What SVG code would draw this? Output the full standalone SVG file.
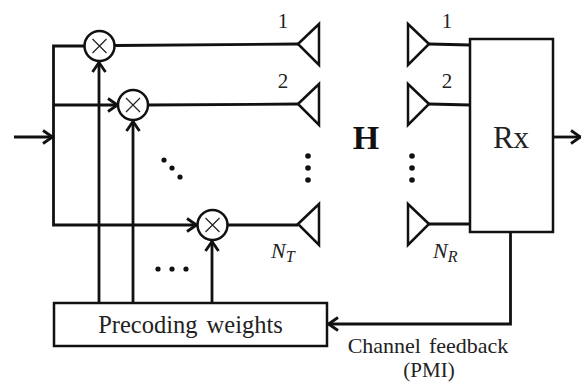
<svg xmlns="http://www.w3.org/2000/svg" width="581" height="383" viewBox="0 0 581 383">
<defs>
<marker id="a" markerUnits="userSpaceOnUse" markerWidth="16" markerHeight="18" refX="13" refY="9" orient="auto"><path d="M3 2.500L12.500 9L3 15.500" fill="none" stroke="#111" stroke-width="2.800"/></marker>
<g id="tx"><path d="M0 0L21 -20V21Z" class="s"/></g>
<g id="rx"><path d="M21 0L0 -20V21Z" class="s"/></g>
<g id="mul"><circle r="15" class="s"/><path d="M-7 -7L7 7M-7 7L7 -7" fill="none" stroke="#222" stroke-width="1.200"/></g>
</defs>
<style>
.s{fill:#fff;stroke:#111;stroke-width:2.500}
.c{fill:none;stroke:#111;stroke-width:2.800}
.t{font-family:"Liberation Serif",serif;fill:#222}
.i{font-family:"Liberation Serif",serif;font-style:italic;fill:#222}
.d{fill:#111}
</style>
<rect width="581" height="383" fill="#fff"/>
<g id="connectors">
<path class="c" d="M14 137H53" marker-end="url(#a)"/>
<path class="c" d="M84 46H53.500V225H197" marker-end="url(#a)"/>
<path class="c" d="M53.500 105H118" marker-end="url(#a)"/>
<path class="c" d="M99 303V62" marker-end="url(#a)"/>
<path class="c" d="M133 303V121" marker-end="url(#a)"/>
<path class="c" d="M212 303V241" marker-end="url(#a)"/>
<path class="c" d="M115 45.500L298 44M148 105L298 104M228 225H298"/>
<path class="c" d="M429 44L470 45M429 104L470 105M429 224L470 224"/>
<path class="c" d="M553 137H581" marker-end="url(#a)"/>
<path class="c" d="M510.500 232V324H328" marker-end="url(#a)"/>
</g>
<g id="m1"><use href="#mul" x="99.500" y="46"/></g>
<g id="m2"><use href="#mul" x="133" y="105"/></g>
<g id="m3"><use href="#mul" x="212.500" y="225"/></g>
<g id="tx1"><use href="#tx" x="298" y="44"/></g>
<g id="tx2"><use href="#tx" x="298" y="104"/></g>
<g id="tx3"><use href="#tx" x="298" y="224"/></g>
<g id="rx1"><use href="#rx" x="408" y="44"/></g>
<g id="rx2"><use href="#rx" x="408" y="104"/></g>
<g id="rx3"><use href="#rx" x="408" y="224"/></g>
<g id="rxbox"><rect x="470" y="39" width="83" height="193" class="s"/><text x="511" y="148" text-anchor="middle" class="t" font-size="31">Rx</text></g>
<g id="precoding"><rect x="54" y="303" width="273" height="43" class="s"/><text x="190.500" y="333" text-anchor="middle" class="t" font-size="24.500" word-spacing="3">Precoding weights</text></g>
<g id="labels">
<text x="283" y="28" text-anchor="middle" class="t" font-size="21">1</text>
<text x="283" y="88" text-anchor="middle" class="t" font-size="21">2</text>
<text x="447" y="28" text-anchor="middle" class="t" font-size="21">1</text>
<text x="447" y="88" text-anchor="middle" class="t" font-size="21">2</text>
<text x="366" y="149" text-anchor="middle" font-family="Liberation Serif,serif" font-weight="bold" font-size="34" fill="#111">H</text>
<text x="271" y="258" class="i" font-size="22">N<tspan font-size="16" dy="4">T</tspan></text>
<text x="433" y="258" class="i" font-size="22">N<tspan font-size="16" dy="4">R</tspan></text>
<text x="428" y="353" text-anchor="middle" class="t" font-size="22" word-spacing="2.500">Channel feedback</text>
<text x="429" y="377" text-anchor="middle" class="t" font-size="21">(PMI)</text>
</g>
<g id="dots" class="d">
<circle cx="164" cy="160" r="2.600"/><circle cx="172" cy="168" r="2.600"/><circle cx="180" cy="177" r="2.600"/>
<circle cx="308" cy="156" r="2.800"/><circle cx="308" cy="168" r="2.800"/><circle cx="308" cy="180" r="2.800"/>
<circle cx="412" cy="156" r="2.800"/><circle cx="412" cy="168" r="2.800"/><circle cx="412" cy="180" r="2.800"/>
<circle cx="158" cy="269" r="2.600"/><circle cx="172" cy="269" r="2.600"/><circle cx="186" cy="269" r="2.600"/>
</g>
</svg>
